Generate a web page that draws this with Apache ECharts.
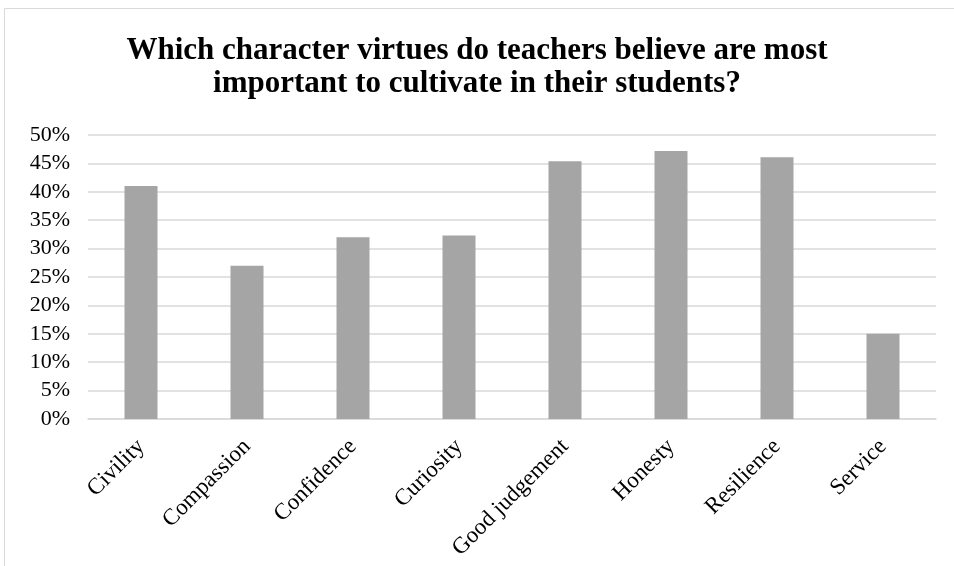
<!DOCTYPE html>
<html><head><meta charset="utf-8">
<script src="https://cdn.jsdelivr.net/npm/echarts@6/dist/echarts.min.js"></script>
<style>html,body{margin:0;padding:0;background:#fff}#c{width:954px;height:566px}</style>
</head><body><div id="c"></div>
<script>
var categories = ['Civility','Compassion','Confidence','Curiosity','Good judgement','Honesty','Resilience','Service'];
var values = [41.0, 27.0, 32.0, 32.3, 45.4, 47.2, 46.1, 15.0];
var titleText = 'Which character virtues do teachers believe are most\nimportant to cultivate in their students?';
var chart = echarts.init(document.getElementById('c'));
chart.setOption({
  animation:false,
  textStyle:{fontFamily:'Liberation Serif'},
  graphic:[{type:'rect',shape:{x:4.5,y:8.5,width:1000,height:700},style:{fill:null,stroke:'#d9d9d9',lineWidth:1},silent:true}],
  title:{text:titleText,left:'center',top:29,textStyle:{fontFamily:'Liberation Serif',fontWeight:'bold',fontSize:31,lineHeight:33,color:'#000'}},
  grid:{left:88,right:18,top:135,bottom:147},
  xAxis:{type:'category',data:categories,
    axisLine:{lineStyle:{color:'#d9d9d9',width:1.5}},axisTick:{show:false},
    axisLabel:{rotate:45,fontSize:23,color:'#000',fontFamily:'Liberation Serif',margin:24,interval:0}},
  yAxis:{type:'value',min:0,max:50,interval:5,
    axisLine:{show:false},axisTick:{show:false},
    splitLine:{lineStyle:{color:'#d9d9d9',width:1.5}},
    axisLabel:{formatter:'{value}%',fontSize:22,color:'#000',fontFamily:'Liberation Serif',margin:18}},
  series:[{type:'bar',data:values,barWidth:33,itemStyle:{color:'#a5a5a5'}}]
});
</script></body></html>
